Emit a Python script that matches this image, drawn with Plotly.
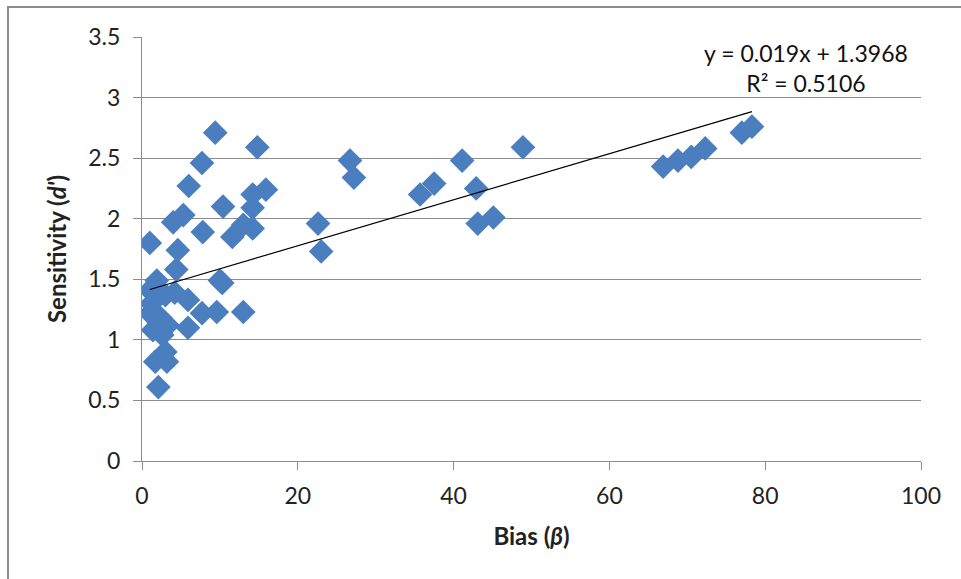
import plotly.graph_objects as go
import numpy as np

bias = [9.4, 14.8, 7.7, 6.0, 15.9, 14.2, 10.4, 14.2, 5.3, 4.0, 7.8, 13.0, 11.6, 14.2, 1.0, 4.6,
        4.4, 1.9, 1.0, 3.0, 4.2, 5.9, 7.7, 9.6, 1.0, 2.1, 3.3, 1.4, 5.9, 2.6, 3.0, 1.7, 3.2, 2.1,
        10.0, 10.3, 13.0, 1.2, 2.4,
        26.7, 27.2, 22.6, 23.0, 35.7, 37.5, 41.1, 42.9, 43.1, 45.1, 48.9,
        66.9, 68.8, 70.5, 72.3, 77.0, 78.3]
sensitivity = [2.71, 2.59, 2.46, 2.27, 2.24, 2.20, 2.10, 2.09, 2.03, 1.97, 1.89, 1.95, 1.85, 1.92, 1.80, 1.74,
               1.58, 1.49, 1.41, 1.37, 1.39, 1.33, 1.22, 1.23, 1.22, 1.15, 1.12, 1.08, 1.10, 1.04, 0.90, 0.82, 0.82, 0.61,
               1.49, 1.47, 1.23, 1.30, 1.18,
               2.48, 2.34, 1.96, 1.73, 2.20, 2.29, 2.48, 2.25, 1.96, 2.01, 2.59,
               2.43, 2.48, 2.51, 2.58, 2.71, 2.76]

slope = 0.019
intercept = 1.3968
r_squared = 0.5106

x_ticks = [0, 20, 40, 60, 80, 100]
y_ticks = [0, 0.5, 1, 1.5, 2, 2.5, 3, 3.5]
y_tick_text = ["0", "0.5", "1", "1.5", "2", "2.5", "3", "3.5"]

font = "Lato, 'Open Sans', sans-serif"

fig = go.Figure()
fig.add_trace(go.Scatter(
    x=bias, y=sensitivity, mode="markers",
    marker=dict(symbol="diamond", size=19, color="#4a7ebf", line=dict(width=0)),
    showlegend=False, hoverinfo="x+y"))

tx = np.array([min(bias), max(bias)])
fig.add_trace(go.Scatter(
    x=tx, y=slope * tx + intercept, mode="lines",
    line=dict(color="black", width=1.2), showlegend=False, hoverinfo="skip"))

fig.add_annotation(
    x=0.852, y=1.0, xref="paper", yref="paper", xanchor="center", yanchor="top",
    text=f"y = {slope}x + {intercept}<br>R² = {r_squared}",
    showarrow=False, align="center", font=dict(family=font, size=23, color="#111"))

fig.add_shape(type="rect", xref="paper", yref="paper",
              x0=-0.172, y0=-0.5, x1=1.3, y1=1.071,
              line=dict(color="#8c8c8c", width=2), fillcolor="rgba(0,0,0,0)", layer="below")

fig.update_layout(
    width=961, height=579,
    margin=dict(l=142, r=40, t=37, b=118),
    plot_bgcolor="white", paper_bgcolor="white",
    font=dict(family=font, size=23, color="#222"),
    xaxis=dict(range=[0, 100], tickvals=x_ticks, showgrid=False, zeroline=False,
               showline=True, linecolor="#8c8c8c", linewidth=1,
               ticks="outside", ticklen=8, tickcolor="#8c8c8c", ticklabelstandoff=6,
               tickfont=dict(size=23),
               title=dict(text="<b>Bias (<i>β</i>)</b>", font=dict(size=24), standoff=20)),
    yaxis=dict(range=[0, 3.5], tickvals=y_ticks, ticktext=y_tick_text,
               showgrid=True, gridcolor="#8c8c8c", gridwidth=1, zeroline=False,
               showline=True, linecolor="#8c8c8c", linewidth=1,
               ticks="outside", ticklen=8, tickcolor="#8c8c8c", ticklabelstandoff=8,
               tickfont=dict(size=23),
               title=dict(text="<b>Sensitivity (<i>d'</i>)</b>", font=dict(size=24), standoff=14)),
)

fig.write_html("out.html", config={"displayModeBar": False},
               post_script="document.body.style.margin='0px';")
